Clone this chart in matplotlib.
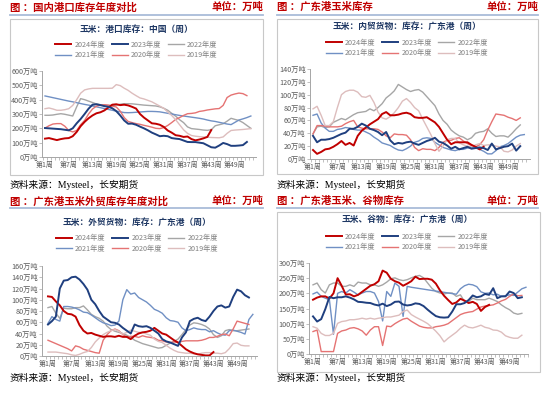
import numpy as np
import matplotlib.pyplot as plt
from matplotlib.lines import Line2D
from matplotlib.patches import Rectangle

plt.rcParams['font.family'] = ['Noto Sans CJK SC', 'DejaVu Sans']

W, H = 550, 395

years = ['2024年度', '2023年度', '2022年度', '2021年度', '2020年度', '2019年度']
colors = ['#C00000', '#1F3F7F', '#A6A6A6', '#7090C4', '#E57373', '#DDBDBD']
widths = [1.4, 1.4, 1.0, 1.0, 1.0, 1.0]

# 国内港口库存 (万吨)
p1_2024 = [128, 132, 125, 118, 125, 130, 132, 145, 175, 215, 245, 270, 290, 305, 312, 325, 345, 365, 368, 362,
           365, 360, 350, 338, 300, 275, 255, 235, 232, 225, 210, 185, 170, 152, 148, 140, 143, 125, 116, 122,
           130, 140, 188]
p1_2023 = [202, 200, 198, 196, 194, 190, 186, 200, 235, 265, 300, 337, 365, 368, 362, 355, 350, 340, 320, 290,
           255, 232, 233, 225, 212, 200, 186, 170, 158, 145, 148, 145, 132, 128, 125, 115, 105, 104, 104, 100,
           96, 82, 68, 65, 80, 98, 90, 78, 78, 80, 83, 105]
p1_2022 = [291, 291, 293, 298, 302, 298, 292, 286, 350, 407, 400, 390, 380, 370, 365, 362, 360, 360, 362, 368,
           372, 372, 371, 368, 365, 362, 360, 358, 356, 350, 340, 326, 305, 285, 260, 240, 210, 198, 195, 192,
           188, 186, 190, 218, 225, 232, 250, 270, 262, 255, 240, 220, 200]
p1_2021 = [426, 420, 414, 408, 402, 396, 390, 385, 379, 373, 367, 362, 356, 350, 344, 338, 332, 326, 320, 315,
           310, 309, 310, 312, 314, 316, 318, 318, 317, 315, 310, 305, 300, 295, 290, 286, 282, 278, 274, 270,
           265, 258, 252, 248, 242, 236, 230, 226, 242, 258, 266, 275, 286]
p1_2020 = [202, 218, 230, 233, 233, 215, 185, 175, 185, 225, 255, 300, 335, 355, 362, 365, 362, 355, 349, 320,
           275, 248, 240, 233, 228, 221, 215, 208, 200, 198, 205, 220, 240, 262, 275, 290, 302, 304, 308, 318,
           322, 328, 332, 336, 338, 360, 415, 432, 440, 446, 442, 428]
p1_2019 = [337, 342, 335, 326, 326, 330, 337, 360, 400, 445, 468, 475, 479, 479, 479, 479, 479, 480, 505, 498,
           480, 465, 445, 428, 412, 405, 395, 385, 370, 355, 340, 314, 290, 260, 225, 190, 165, 150, 145, 142,
           140, 138, 136, 135, 134, 140, 165, 185, 188, 190, 192, 195, 198]

# 广东港内贸库存 (万吨)
p2_2024 = [14, 8, 11, 15, 16, 19, 23, 28, 22, 25, 21, 36, 44, 49, 54, 58, 62, 70, 73, 68,
           68, 69, 71, 72, 70, 65, 64, 64, 65, 61, 57, 50, 40, 30, 23, 26, 26, 26, 26, 22,
           19, 15, 19]
p2_2023 = [36, 26, 30, 30, 31, 33, 36, 39, 41, 47, 47, 50, 55, 52, 47, 45, 42, 37, 42, 29,
           23, 25, 24, 26, 27, 24, 22, 25, 28, 30, 33, 27, 25, 21, 16, 19, 15, 17, 19, 16,
           17, 18, 17, 14, 24, 15, 17, 19, 20, 24, 13, 20]
p2_2022 = [39, 50, 51, 49, 50, 57, 60, 63, 61, 65, 69, 72, 73, 74, 78, 75, 80, 86, 95, 100,
           106, 116, 112, 108, 105, 107, 108, 104, 97, 90, 83, 70, 60, 54, 45, 40, 36, 34, 30, 33,
           40, 42, 43, 47, 40, 35, 36, 36, 34, 40, 47, 53]
p2_2021 = [68, 70, 56, 48, 43, 43, 46, 47, 49, 48, 46, 45, 45, 42, 39, 34, 30, 25, 23, 21,
           17, 14, 13, 16, 20, 26, 28, 32, 33, 32, 26, 22, 18, 16, 14, 13, 15, 15, 17, 18,
           17, 15, 12, 8, 8, 13, 19, 21, 24, 29, 34, 37, 38]
p2_2020 = [39, 52, 52, 51, 50, 50, 50, 51, 55, 58, 60, 50, 48, 47, 47, 47, 46, 42, 36, 33,
           39, 38, 38, 37, 30, 18, 13, 16, 15, 15, 13, 18, 26, 29, 29, 32, 33, 28, 24, 21,
           19, 22, 30, 45, 58, 70, 69, 68, 65, 63, 60, 64]
p2_2019 = [78, 82, 68, 52, 52, 58, 80, 100, 105, 107, 107, 104, 97, 96, 99, 88, 73, 64, 62, 66,
           72, 80, 90, 94, 88, 80, 75, 62, 50, 38, 24, 12, 20, 30, 32, 32, 25, 22, 20, 19,
           22, 24, 21, 22, 22, 20, 19, 12, 11, 14, 20, 24]

# 广东港外贸库存 (万吨)
p3_2024 = [106, 105, 97, 90, 80, 75, 74, 70, 55, 45, 40, 41, 38, 36, 34, 35, 35, 34, 36, 34,
           34, 30, 36, 40, 42, 43, 45, 50, 45, 40, 38, 33, 28, 24, 18, 12, 8, 5, 3, 2,
           1, 1, 7]
p3_2023 = [56, 62, 70, 120, 134, 135, 140, 141, 136, 128, 118, 100, 92, 80, 70, 65, 60, 59, 56, 50,
           45, 40, 56, 53, 52, 53, 50, 45, 40, 30, 26, 24, 21, 18, 33, 42, 62, 66, 68, 64,
           62, 70, 80, 88, 90, 86, 88, 105, 118, 115, 108, 104]
p3_2022 = [86, 88, 76, 67, 85, 84, 84, 86, 86, 89, 82, 74, 70, 67, 62, 53, 47, 44, 42, 40,
           37, 33, 28, 25, 22, 20, 18, 16, 14, 15, 19, 23, 26, 30, 38, 47, 55, 59, 58, 56,
           53, 48, 38, 33, 36, 45, 47, 45, 45, 46, 47, 48]
p3_2021 = [58, 70, 65, 62, 88, 88, 87, 85, 82, 78, 77, 73, 68, 63, 59, 57, 54, 55, 62, 100,
           118, 110, 112, 104, 100, 96, 90, 83, 80, 76, 68, 63, 62, 60, 50, 45, 47, 50, 48, 47,
           47, 43, 45, 41, 38, 37, 45, 46, 44, 42, 39, 65, 74]
p3_2020 = [28, 25, 22, 19, 16, 13, 9, 18, 16, 12, 10, 8, 6, 5, 28, 38, 45, 48, 45, 38,
           34, 35, 35, 33, 36, 34, 33, 32, 28, 27, 25, 24, 25, 24, 26, 27, 27, 27, 27, 28,
           30, 33, 33, 35, 38, 39, 36, 48, 62, 60, 58, 56]
p3_2019 = [7, 7, 7, 6, 5, 4, 2, 1, 3, 6, 8, 15, 25, 32, 38, 42, 45, 47, 44, 39,
           42, 46, 44, 42, 42, 39, 37, 30, 26, 24, 19, 14, 10, 7, 6, 5, 5, 4, 3, 5,
           6, 6, 5, 5, 4, 6, 13, 22, 23, 19, 18, 18]

# 广东港玉米、谷物库存 (万吨), nan = 缺数
p4_2024 = [179, 186, 190, 190, 183, 200, 250, 225, 196, 197, 190, 195, 205, 215, 225, 230, 240, 275, 268, 248,
           240, 235, 225, 232, 240, 255, 247, 248, 248, 245, 232, 210, 192, 178, 165, 170, 182, 176, 168, 172,
           165, 142, 155, 162]
p4_2023 = [124, 107, 115, 148, 188, 184, 187, 187, 190, 186, 180, 172, 171, 169, 168, 163, 160, 166, 158, 163,
           172, 173, 163, 160, 162, 167, 165, 158, 146, 135, 125, 121, 120, 121, 140, 164, 164, 168, 178, 193,
           187, 190, 198, 195, 217, 184, 190, 190, 206, 201, 184, 187]
p4_2022 = [228, 234, 212, 201, 228, 234, 234, 223, 223, 228, 223, 237, 234, 234, 228, 228, 223, 228, 237, 248,
           251, 245, 242, 245, 251, 256, 259, 251, 234, 217, 206, 201, 198, 201, 201, 190, 195, 173, 173, 184,
           179, 179, 179, 184, 179, 173, 162, 153, 146, 135, 131, 134]
p4_2021 = [198, 204, 190, 184, 179, 65, 200, 206, 201, 212, 204, 195, 201, 206, 206, 201, 173, 109, 206, 190,
           234, 223, 124, 223, 220, np.nan, np.nan, np.nan, np.nan, np.nan, np.nan, np.nan, np.nan, np.nan, np.nan,
           197, 215, 225, 230, 228, 222, 205, 200, 201, 195, 197, 190, 192, 195, 193, 204, 215, 220]
p4_2020 = [74, 79, 8, 8, 8, 8, 68, 76, 79, 85, 87, 83, 76, 62, 79, 90, 90, 28, 92, 90,
           100, 108, 115, 118, 108, 100, 92, 88, 86, 86, 90, 92, 95, 100, 110, 120, 130, 135, 138, 140,
           148, 155, 158, 160, 162, 168, 175, 180, 190, 198, 192, 193]
p4_2019 = [90, 85, 68, 61, 61, 68, 101, 107, 109, 113, 113, 115, 118, 115, 118, 115, 118, 120, 122, 122,
           125, 128, 140, 145, 130, 122, 115, 108, 100, 88, 75, 60, 40, 52, 62, 72, 85, 95, 88, 86,
           90, 95, 88, 85, 79, 78, 72, 60, 55, 52, 52, 62]

label_weeks = [1, 7, 13, 19, 25, 31, 37, 43, 49]

fig = plt.figure(figsize=(5.5, 3.95), dpi=100)


def fx(x):
    return x / W


def fy(y):
    return 1 - y / H


def frame_line(x0, x1, y, color, lw):
    fig.add_artist(Line2D([fx(x0), fx(x1)], [fy(y), fy(y)], transform=fig.transFigure, color=color, lw=lw))


def panel(series, left, right, header, title, ax_box, xlim, ymax, ystep,
          head_y, line_y, box, title_y, leg_y, src_y, cx):
    # header
    fig.text(fx(left), fy(head_y), header, color='#C00000', fontsize=7.5, weight='bold', va='center')
    fig.text(fx(right), fy(head_y), '单位：万吨', color='#C00000', fontsize=7.5, weight='bold',
             va='center', ha='right')
    frame_line(left, right, line_y, '#A9BCD9', 1.3)
    if box is not None:
        bx0, by0, bx1, by1 = box
        fig.add_artist(Rectangle((fx(bx0), fy(by1)), fx(bx1 - bx0), (by1 - by0) / H,
                                 transform=fig.transFigure, fill=False, ec='#C8C8C8', lw=0.8))
    fig.text(fx(cx), fy(title_y), title, color='#1F3864', fontsize=6.3, weight='bold',
             ha='center', va='center')
    fig.text(fx(left), fy(src_y), '资料来源：Mysteel，长安期货', fontsize=7,
             family=['Liberation Serif', 'Noto Sans CJK SC'], va='center')

    l, t, r, b = ax_box
    ax = fig.add_axes([fx(l), fy(b), fx(r - l), (b - t) / H])
    handles = []
    for vals, name, c, lw in zip(series, years, colors, widths):
        v = np.array(vals, dtype=float)
        wk = np.arange(1, len(v) + 1)
        ok = ~np.isnan(v)
        ax.plot(wk[ok], v[ok], color=c, lw=lw, solid_joinstyle='round')
        handles.append(Line2D([], [], color=c, lw=lw, label=name))
    # draw 2024 / 2023 on top
    for ln in ax.lines[:2]:
        ln.set_zorder(3)

    ax.set_xlim(*xlim)
    ax.set_ylim(0, ymax)
    ax.set_yticks(np.arange(0, ymax + 1, ystep))
    ax.set_yticklabels([f'{v}万吨' for v in range(0, ymax + 1, ystep)])
    ax.set_xticks(label_weeks)
    ax.set_xticklabels([f'第{w}周' for w in label_weeks])
    ax.set_xticks(np.arange(0.5, 54, 1), minor=True)
    ax.tick_params(axis='x', which='major', length=0, labelsize=5, colors='#595959', pad=3)
    ax.tick_params(axis='x', which='minor', length=2, color='#A6A6A6', width=0.5)
    ax.tick_params(axis='y', length=2, labelsize=5.2, colors='#595959', pad=1, width=0.5)
    ax.tick_params(axis='y', color='#A6A6A6')
    for s in ['top', 'right']:
        ax.spines[s].set_visible(False)
    for s in ['left', 'bottom']:
        ax.spines[s].set_color('#A6A6A6')
        ax.spines[s].set_linewidth(0.7)
    ax.patch.set_alpha(0)

    order = [0, 3, 1, 4, 2, 5]
    leg = ax.legend([handles[i] for i in order], [years[i] for i in order], ncol=3,
                    loc='center', bbox_to_anchor=(fx(cx), fy(leg_y)), bbox_transform=fig.transFigure,
                    frameon=False, fontsize=5.2, handlelength=2.2, handletextpad=0.45,
                    columnspacing=0.9, labelspacing=0.35, borderpad=0)
    for t_ in leg.get_texts():
        t_.set_color('#808080')
    return ax


panel([p1_2024, p1_2023, p1_2022, p1_2021, p1_2020, p1_2019], 10, 263,
      '图 ：国内港口库存年度对比', '玉米：港口库存：中国（周）',
      (42, 71, 256, 157), (0.24, 54.3), 600, 100,
      7, 15, (10, 19, 263, 175), 29, 50, 185, 136.5)

panel([p2_2024, p2_2023, p2_2022, p2_2021, p2_2020, p2_2019], 277, 538,
      '图 ：广东港玉米库存', '玉米：内贸货物：库存：广东港（周）',
      (310, 69, 530, 159), (0.26, 54.4), 140, 20,
      7, 15, (277, 19, 538, 174), 26, 48, 185, 407)

panel([p3_2024, p3_2023, p3_2022, p3_2021, p3_2020, p3_2019], 10, 263,
      '图 ：广东港玉米外贸库存年度对比', '玉米：外贸货物：库存：广东港（周）',
      (42, 266, 257, 356), (-0.52, 54.05), 160, 20,
      201, 208, None, 222, 243.5, 378, 137)

panel([p4_2024, p4_2023, p4_2022, p4_2021, p4_2020, p4_2019], 277, 538,
      '图 ：广东港玉米、谷物库存', '玉米、谷物：库存：广东港（周）',
      (309, 263, 528, 354), (0.02, 53.4), 300, 50,
      201, 208, (277, 212, 540, 372), 219, 242, 378, 407)

fig.savefig('out.png', dpi=100)
